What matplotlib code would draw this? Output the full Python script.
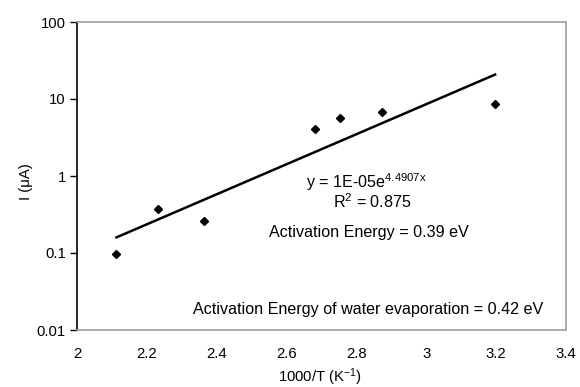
import numpy as np
import matplotlib
matplotlib.use("Agg")
import matplotlib.pyplot as plt

plt.rcParams['font.family'] = ['Liberation Sans', 'DejaVu Sans']
plt.rcParams['mathtext.fontset'] = 'custom'
plt.rcParams['mathtext.rm'] = 'Liberation Sans'
plt.rcParams['mathtext.it'] = 'Liberation Sans'

inv_T = [2.113, 2.232, 2.364, 2.681, 2.754, 2.874, 3.197]
current_uA = [0.098, 0.369, 0.26, 4.04, 5.67, 6.84, 8.53]
x_ticks = [2, 2.2, 2.4, 2.6, 2.8, 3, 3.2, 3.4]
y_ticks = [0.01, 0.1, 1, 10, 100]
y_tick_labels = ['0.01', '0.1', '1', '10', '100']

fig = plt.figure(figsize=(5.8, 3.87), dpi=100)
ax = fig.add_axes([77/580, 1 - 330/387, (566-77)/580, (330-22)/387])

x = np.array(inv_T)
y = np.array(current_uA)
slope, intercept = np.polyfit(x, np.log(y), 1)
xf = np.linspace(x.min(), x.max(), 50)
ax.plot(xf, np.exp(intercept) * np.exp(slope * xf), color='black', lw=1.8, zorder=2)
ax.plot(x, y, linestyle='none', marker='D', markersize=4.2, color='black', zorder=3)

ax.set_yscale('log')
ax.set_xlim(2, 3.4)
ax.set_ylim(0.01, 100)
ax.set_xticks(x_ticks)
ax.set_xticklabels([f'{t:g}' for t in x_ticks])
ax.set_yticks(y_ticks)
ax.set_yticklabels(y_tick_labels)
ax.minorticks_off()
ax.tick_params(axis='y', direction='out', length=5, width=1, labelsize=10.7, pad=3)
ax.tick_params(axis='x', length=0, labelsize=10.7, pad=12)

for s in ['top', 'right', 'bottom']:
    ax.spines[s].set_color('#a0a0a0')
    ax.spines[s].set_linewidth(1.2)
ax.spines['left'].set_color('black')
ax.spines['left'].set_linewidth(1.2)

ax.set_xlabel('1000/T (K$^{-1}$)', fontsize=10.7)
ax.xaxis.set_label_coords((320-77)/489, -(366-330)/308)
ax.set_ylabel('I (μA)', fontsize=10.7)
ax.yaxis.set_label_coords(-(77-33)/489, (330-182)/308)

fs = 11.6
ax.text(0.591, 0.481, 'y = 1E-05e$^{4.4907x}$', transform=ax.transAxes, ha='center', va='center', fontsize=fs)
ax.text(0.603, 0.417, 'R$^2$ = 0.875', transform=ax.transAxes, ha='center', va='center', fontsize=fs)
ax.text(0.596, 0.318, 'Activation Energy = 0.39 eV', transform=ax.transAxes, ha='center', va='center', fontsize=fs)
ax.text(0.595, 0.068, 'Activation Energy of water evaporation = 0.42 eV', transform=ax.transAxes, ha='center', va='center', fontsize=fs)

fig.savefig('out.png', dpi=100)
